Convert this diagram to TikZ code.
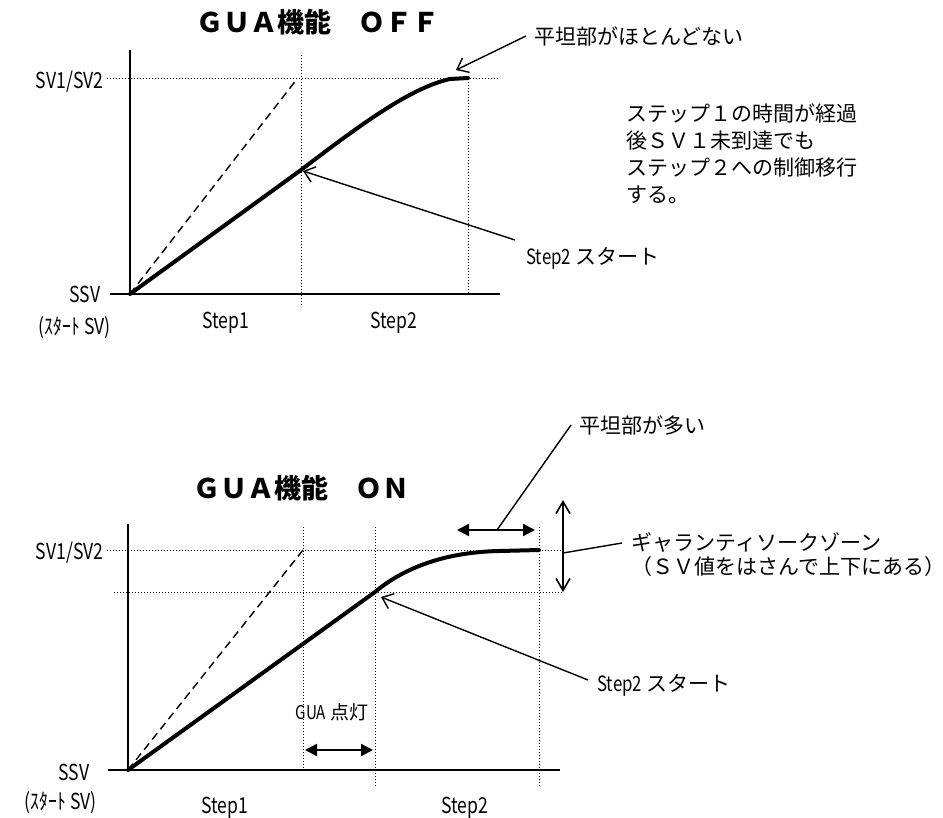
\documentclass[tikz,border=0pt]{standalone}
\usepackage{fontspec}
\setmainfont{Noto Sans CJK JP}
\newfontfamily\narrowfont[FakeStretch=0.8]{Noto Sans CJK JP}
\usetikzlibrary{arrows.meta}

\begin{document}
\begin{tikzpicture}[
  x=0.5pt, y=-0.5pt,
  font=\fontsize{10.5pt}{13.5pt}\selectfont,
  axis/.style={line width=1pt},
  guide/.style={line width=0.5pt, dash pattern=on 0.5pt off 1pt},
  ideal/.style={line width=0.7pt, dash pattern=on 4pt off 2.5pt},
  curve/.style={line width=2pt, line cap=round},
  lead/.style={line width=0.7pt, -{Straight Barb[length=5pt,width=8pt]}},
  leadline/.style={line width=0.7pt},
  span/.style={line width=1.2pt,
               {Triangle[length=6pt,width=6pt]}-{Triangle[length=6pt,width=6pt]}},
  zone/.style={line width=0.8pt,
               {Straight Barb[length=6pt,width=7pt]}-{Straight Barb[length=6pt,width=7pt]}},
  lbl/.style={inner sep=0pt, font=\narrowfont\fontsize{11pt}{13pt}\selectfont},
  txt/.style={inner sep=0pt, align=left},
  ttl/.style={inner sep=0pt, font=\bfseries\fontsize{13.5pt}{16pt}\selectfont},
]
\useasboundingbox (0,0) rectangle (943,818);

% ---------------- GUA OFF ----------------
\node[ttl] (ttloff) at (318,22) {ＧＵＡ機能　ＯＦＦ};
\coordinate (o1) at (130,294);
\coordinate (s2off) at (301,170);
% axes and guides
\draw[axis] (130,50) -- (o1);
\draw[axis] (110,294) -- (500,294);
\draw[guide] (107,79) -- (500,79);
\draw[guide] (301,55) -- (301,305);
\draw[guide] (468,79) -- (468,294);
% ideal ramp and real response
\draw[ideal] (o1) -- (297,79);
\draw[curve] (o1) -- (s2off) .. controls (360,125) and (410,88) .. (450,79) -- (468,78);
% axis labels
\node[lbl, anchor=east] (sv1) at (104,82) {SV1/SV2};
\node[lbl, anchor=east] (ssv1) at (101,294) {SSV};
\node[lbl, anchor=east] (ssvn1) at (111,328) {(ｽﾀｰﾄ SV)};
\node[lbl] (st1off) at (226,323) {Step1};
\node[lbl] (st2off) at (394,323) {Step2};
% notes
\node[txt, anchor=west] (flatoff) at (534,36) {平坦部がほとんどない};
\coordinate (peakoff) at (456,70);
\draw[lead] ([xshift=-4pt]flatoff.west) -- (peakoff);
\node[txt, anchor=north west] (note) at (626,103)
  {ステップ１の時間が経過\\後ＳＶ１未到達でも\\ステップ２への制御移行\\する。};
\node[txt, anchor=west] (s2txtoff) at (526,258) {{\narrowfont Step2} スタート};
\coordinate (s2tailoff) at (515,240);
\draw[lead] (s2tailoff) -- (303,171);

% ---------------- GUA ON ----------------
\node[ttl] (ttlon) at (301,488) {ＧＵＡ機能　ＯＮ};
\coordinate (o2) at (128,770);
\coordinate (s2on) at (375,592);
% axes and guides
\draw[axis] (128,524) -- (o2);
\draw[axis] (108,770) -- (560,770);
\draw[guide] (107,550) -- (562,550);
\draw[guide] (114,592) -- (563,592);
\draw[guide] (303,527) -- (303,770);
\draw[guide] (375,527) -- (375,788);
\draw[guide] (539,527) -- (539,788);
% ideal ramp and real response
\draw[ideal] (o2) -- (303,550);
\draw[curve] (o2) -- (s2on) .. controls (400,571) and (440,552) .. (500,551) -- (539,550);
% axis labels
\node[lbl, anchor=east] (sv2) at (104,553) {SV1/SV2};
\node[lbl, anchor=east] (ssv2) at (90,772) {SSV};
\node[lbl, anchor=east] (ssvn2) at (97,803) {(ｽﾀｰﾄ SV)};
\node[lbl] (st1on) at (225,808) {Step1};
\node[lbl] (st2on) at (465,808) {Step2};
% GUA lamp span
\node[txt, font=\fontsize{9.5pt}{12pt}\selectfont] (gua) at (332,712) {{\narrowfont GUA} 点灯};
\coordinate (gual) at (305,750);
\coordinate (guar) at (373,750);
\draw[span] (gual) -- (guar);
% flat part span
\coordinate (flatl) at (457,530);
\coordinate (flatr) at (535,530);
\coordinate (flatmid) at (497,530);
\draw[span] (flatl) -- (flatr);
\node[txt, anchor=west] (flaton) at (579,425) {平坦部が多い};
\draw[leadline] (flatmid) -- ([xshift=-4pt]flaton.west);
% guaranteed soak zone
\coordinate (zonetop) at (563,500);
\coordinate (zonebot) at (563,592);
\coordinate (zonemid) at (563,553);
\coordinate (zonetip) at (622,543);
\draw[zone] (zonetop) -- (zonebot);
\node[txt, anchor=north west, font=\fontsize{10.5pt}{12pt}\selectfont] (zonetxt) at (631,532)
  {ギャランティソークゾーン\\（ＳＶ値をはさんで上下にある）};
\draw[leadline] (zonemid) -- (zonetip);
% step2 start
\node[txt, anchor=west] (s2txton) at (597,685) {{\narrowfont Step2} スタート};
\coordinate (s2tailon) at (588,680);
\draw[lead] (s2tailon) -- (381,597);
\end{tikzpicture}
\end{document}
